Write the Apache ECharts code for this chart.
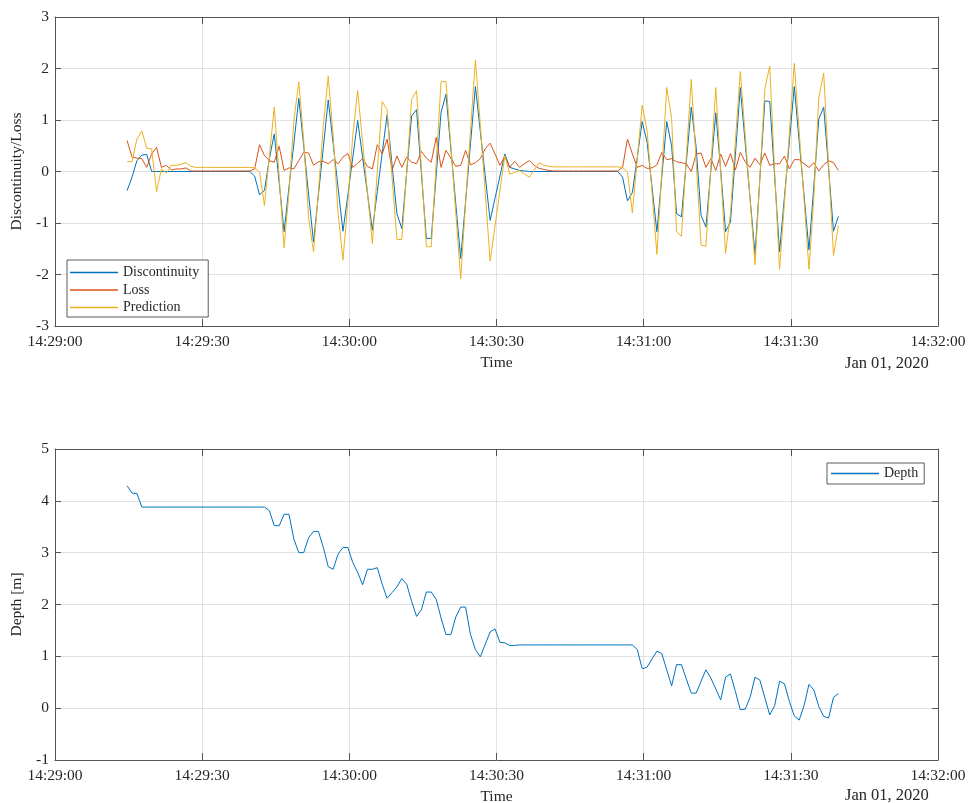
<!DOCTYPE html>
<html><head><meta charset="utf-8">
<script src="https://cdn.jsdelivr.net/npm/echarts@6/dist/echarts.min.js"></script>
<style>html,body{margin:0;padding:0;background:#fff}#c{width:968px;height:803px}</style>
</head><body><div id="c"></div>
<script>
// ---- data ----
const timeTickLabels = ['14:29:00','14:29:30','14:30:00','14:30:30','14:31:00','14:31:30','14:32:00'];
const dateLabel = 'Jan 01, 2020';
const sampleStartSec = 14.7;   // seconds after 14:29:00
const sampleStepSec = 1;

const discontinuity = [-0.37,-0.11,0.21,0.32,0.33,0,
0,0,0,0,0,0,0,0,0,0,
0,0,0,0,0,0,0,0,0,0,
-0.09,-0.45,-0.37,0.25,0.73,-0.22,-1.17,-0.3,0.55,1.42,
0.5,-0.45,-1.37,-0.45,0.47,1.39,0.54,-0.31,-1.16,-0.45,
0.27,0.99,0.28,-0.43,-1.14,-0.39,0.36,1.1,0.14,-0.82,
-1.11,-0.01,1.08,1.2,-0.05,-1.3,-1.3,-0.08,1.15,1.5,
0.44,-0.63,-1.69,-0.58,0.54,1.65,0.78,-0.08,-0.95,-0.52,
-0.09,0.34,0.08,0.05,0.02,0.01,0,0,0,0,
0,0,0,0,0,0,0,0,0,0,
0,0,0,0,0,-0.11,-0.57,-0.41,0.28,0.97,
0.57,-0.3,-1.17,-0.1,0.97,0.5,-0.82,-0.88,0.19,1.25,
0.47,-0.85,-1.08,0.03,1.14,0.03,-1.17,-0.98,0.33,1.63,
0.55,-0.53,-1.61,-0.12,1.37,1.36,-0.1,-1.56,-0.49,0.58,
1.65,0.59,-0.47,-1.52,-0.27,1.02,1.25,0.05,-1.16,-0.87];

const loss = [0.6,0.28,0.26,0.25,0.08,0.34,
0.47,0.08,0.12,0.03,0.05,0.05,0.07,0.01,0.01,0.01,
0.01,0.01,0.01,0.01,0.01,0.01,0.01,0.01,0.01,0.01,
0.05,0.52,0.31,0.21,0.18,0.49,0.02,0.07,0.05,0.21,
0.37,0.36,0.12,0.19,0.2,0.15,0.23,0.15,0.28,0.35,
0.08,0.16,0.25,0.1,0.05,0.52,0.34,0.63,0.02,0.3,
0.08,0.28,0.18,0.15,0.39,0.26,0.18,0.66,0.08,0.41,
0.26,0.1,0.12,0.41,0.13,0.17,0.25,0.44,0.55,0.34,
0.12,0.29,0.08,0.2,0.08,0.15,0.21,0.12,0.06,0.04,
0.02,0.01,0.01,0.01,0.01,0.01,0.01,0.01,0.01,0.01,
0.01,0.01,0.01,0.01,0.01,0.08,0.63,0.34,0.08,0.12,
0.06,0.07,0.13,0.37,0.23,0.25,0.19,0.17,0.15,0.0,
0.34,0.36,0.08,0.25,0.02,0.34,0.1,0.35,0.03,0.37,
0.19,0.08,0.26,0.13,0.36,0.12,0.15,0.15,0.3,0.05,
0.23,0.23,0.15,0.08,0.17,0.01,0.13,0.21,0.17,0.02];

const prediction = [0.19,0.19,0.63,0.79,0.45,0.44,
-0.39,0.05,-0.03,0.12,0.12,0.14,0.17,0.1,0.08,0.08,
0.08,0.08,0.08,0.08,0.08,0.08,0.08,0.08,0.08,0.08,
0.07,-0.01,-0.66,0.3,1.25,-0.1,-1.48,-0.4,1.0,1.74,
0.6,-0.9,-1.56,-0.4,0.9,1.85,0.7,-0.8,-1.72,-0.6,
0.7,1.57,0.58,-0.41,-1.4,0.0,1.36,1.2,-0.1,-1.32,
-1.32,0.0,1.4,1.57,0.05,-1.46,-1.46,0.15,1.75,1.75,
0.5,-0.8,-2.08,-0.6,0.8,2.17,0.9,-0.4,-1.74,-1.06,
-0.37,0.31,-0.05,-0.02,0.02,-0.05,-0.11,0.03,0.17,0.12,
0.1,0.09,0.09,0.09,0.09,0.09,0.09,0.09,0.09,0.09,
0.09,0.09,0.09,0.09,0.09,0.08,-0.01,-0.8,0.25,1.29,
0.79,-0.4,-1.61,0.0,1.63,1.03,-1.17,-1.26,0.3,1.79,
0.2,-1.43,-1.45,0.1,1.63,0.0,-1.59,-0.8,0.6,1.94,
0.7,-0.55,-1.81,-0.1,1.61,2.05,0.0,-1.9,-0.6,0.75,
2.1,0.77,-0.56,-1.9,-0.5,1.44,1.91,0.1,-1.63,-1.05];

const depth = [4.29,4.15,4.14,3.88,3.88,3.88,
3.88,3.88,3.88,3.88,3.88,3.88,3.88,3.88,3.88,3.88,
3.88,3.88,3.88,3.88,3.88,3.88,3.88,3.88,3.88,3.88,
3.88,3.88,3.88,3.81,3.52,3.52,3.74,3.74,3.26,3.0,
3.0,3.29,3.41,3.41,3.1,2.73,2.68,2.97,3.1,3.1,
2.81,2.62,2.38,2.68,2.68,2.71,2.39,2.12,2.23,2.34,
2.5,2.39,2.06,1.77,1.9,2.24,2.24,2.1,1.74,1.42,
1.42,1.76,1.95,1.95,1.42,1.13,0.99,1.23,1.47,1.53,
1.27,1.26,1.21,1.21,1.22,1.22,1.22,1.22,1.22,1.22,
1.22,1.22,1.22,1.22,1.22,1.22,1.22,1.22,1.22,1.22,
1.22,1.22,1.22,1.22,1.22,1.22,1.22,1.22,1.13,0.76,
0.79,0.95,1.1,1.05,0.74,0.43,0.84,0.84,0.56,0.29,
0.29,0.52,0.74,0.58,0.37,0.16,0.6,0.66,0.32,-0.03,
-0.02,0.21,0.6,0.54,0.2,-0.13,0.05,0.52,0.47,0.13,
-0.15,-0.23,0.05,0.46,0.35,0.03,-0.16,-0.19,0.21,0.28];

// ---- chart ----
const FONT = 'Liberation Serif';
const TXT = '#262626';
const AXC = '#555555';
const GRIDC = '#e2e2e2';
const colors = {d:'#0072BD', l:'#D95319', p:'#EDB120'};
const toXY = arr => arr.map((v,i)=>[sampleStartSec + i*sampleStepSec, v]);

function xAxes(g){
  return [
    {gridIndex:g,type:'value',min:0,max:180,interval:30,position:'bottom',
     axisLine:{show:true,onZero:false,lineStyle:{color:AXC,width:1}},
     axisTick:{show:true,inside:true,length:7,lineStyle:{color:AXC}},
     axisLabel:{formatter:v=>timeTickLabels[Math.round(v/30)],fontFamily:FONT,fontSize:15.5,color:TXT,margin:8},
     splitLine:{show:true,lineStyle:{color:GRIDC,width:1}},
     name:'Time',nameLocation:'middle',nameGap:29,nameTextStyle:{fontFamily:FONT,fontSize:15.5,color:TXT}},
    {gridIndex:g,type:'value',min:0,max:180,interval:30,position:'top',
     axisLine:{show:true,onZero:false,lineStyle:{color:AXC,width:1}},
     axisTick:{show:true,inside:true,length:7,lineStyle:{color:AXC}},
     axisLabel:{show:false},splitLine:{show:false}}
  ];
}
function yAxes(g,min,max,name){
  return [
    {gridIndex:g,type:'value',min:min,max:max,interval:1,position:'left',
     axisLine:{show:true,onZero:false,lineStyle:{color:AXC,width:1}},
     axisTick:{show:true,inside:true,length:6,lineStyle:{color:AXC}},
     axisLabel:{fontFamily:FONT,fontSize:15.5,color:TXT,margin:6},
     splitLine:{show:true,lineStyle:{color:GRIDC,width:1}},
     name:name,nameLocation:'middle',nameGap:28,nameRotate:90,
     nameTextStyle:{fontFamily:FONT,fontSize:15.5,color:TXT}},
    {gridIndex:g,type:'value',min:min,max:max,interval:1,position:'right',
     axisLine:{show:true,onZero:false,lineStyle:{color:AXC,width:1}},
     axisTick:{show:true,inside:true,length:6,lineStyle:{color:AXC}},
     axisLabel:{show:false},splitLine:{show:false}}
  ];
}
function line(name,data,color,xi,yi){
  return {name:name,type:'line',xAxisIndex:xi,yAxisIndex:yi,data:toXY(data),
    symbol:'none',showSymbol:false,lineStyle:{color:color,width:1},itemStyle:{color:color},
    animation:false,z:3};
}

const chart = echarts.init(document.getElementById('c'),null,{renderer:'canvas'});
chart.setOption({
  animation:false,
  backgroundColor:'#fff',
  grid:[{left:55,top:17,width:883,height:309,outerBoundsMode:'none',containLabel:false},
        {left:55,top:449,width:883,height:311,outerBoundsMode:'none',containLabel:false}],
  xAxis:[...xAxes(0),...xAxes(1)],
  yAxis:[...yAxes(0,-3,3,'Discontinuity/Loss'),...yAxes(1,-1,5,'Depth [m]')],
  legend:[
    {data:['Discontinuity','Loss','Prediction'],orient:'vertical',left:67,top:260,
     icon:'rect',itemWidth:48,itemHeight:1.3,itemGap:0.5,padding:[4,9,1,3],
     backgroundColor:'#fff',borderColor:'#333',borderWidth:0.8,
     textStyle:{fontFamily:FONT,fontSize:14,color:TXT,lineHeight:17}},
    {data:['Depth'],orient:'vertical',left:827,top:463,
     icon:'rect',itemWidth:48,itemHeight:1.3,itemGap:0,padding:[2,6,2,4],
     backgroundColor:'#fff',borderColor:'#333',borderWidth:0.8,
     textStyle:{fontFamily:FONT,fontSize:14,color:TXT,lineHeight:17}}
  ],
  graphic:[
    {type:'text',left:845,top:355,style:{text:dateLabel,font:'16.5px "Liberation Serif"',fill:TXT}},
    {type:'text',left:845,top:787,style:{text:dateLabel,font:'16.5px "Liberation Serif"',fill:TXT}}
  ],
  series:[
    line('Discontinuity',discontinuity,colors.d,0,0),
    line('Loss',loss,colors.l,0,0),
    line('Prediction',prediction,colors.p,0,0),
    line('Depth',depth,colors.d,2,2)
  ]
});
</script>
</body></html>
